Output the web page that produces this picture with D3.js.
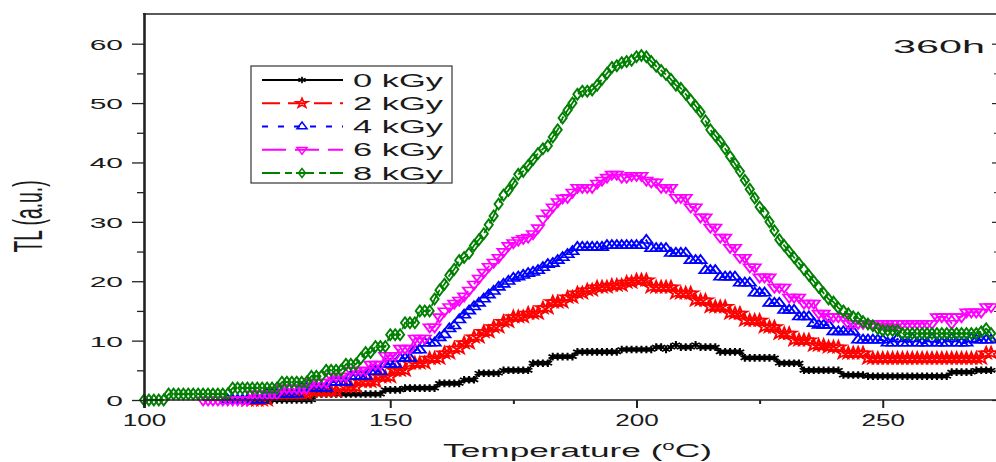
<!DOCTYPE html>
<html>
<head>
<meta charset="utf-8">
<script src="https://cdn.jsdelivr.net/npm/d3@7"></script>
<style>
  body { margin: 0; background: #fff; }
  svg { display: block; font-family: "Liberation Sans", Arial, sans-serif; }
</style>
</head>
<body>
<script>
// TL glow curves, one reading per degree C, each series starts at its first recorded temperature
const doseLabels = ["0 kGy", "2 kGy", "4 kGy", "6 kGy", "8 kGy"];
const seriesStart = [123, 121, 117, 112, 100];

const tl0kGy = [0,0,0,0,0,0,0,
  0,0,0,0,0,1,1,1,1,1,
  1,1,1,1,1,1,1,1,1,1.7,
  1.7,1.7,1.7,2,2,2,2,2,2,2,
  2.8,2.8,2.8,2.8,2.8,3.4,3.4,3.4,4.5,4.5,
  4.5,4.5,4.5,5,5,5,5,5,5,6.2,
  6.2,6.2,6.2,7.3,7.3,7.3,7.3,7.3,8.1,8.1,
  8.1,8.1,8.1,8.1,8.1,8.1,8.1,8.5,8.5,8.5,
  8.5,8.5,8.5,8.5,8.9,8.9,8.5,8.9,9.3,8.9,
  8.9,8.9,9.3,8.9,8.9,8.9,8.9,8.1,8.1,8.1,
  8.1,8.1,7.1,7.1,7.1,7.1,7.1,7.1,7.1,6.2,
  6.2,6.2,6.2,6.2,5,5,5,5,5,5,
  5,5,4.2,4.2,4.2,4.2,4.2,4,4,4,
  4,4,4,4,4,4,4,4,4,4,
  4,4,4,4,4.7,4.7,4.7,4.7,4.7,5,
  5,5,5];

const tl2kGy = [0,0,0,0,0,1,1,1,1,
  1,1,1,1,1.5,1.5,1.5,1.5,1.5,1.5,
  2.2,2.2,2.2,2.2,3.1,3.1,3.1,3.1,3.9,3.9,
  3.9,5,5,5,6.2,6.2,6.2,6.2,7,7,
  7,7.9,7.9,8.7,8.7,9.6,9.6,10.6,10.6,11.5,
  11.5,12.3,12.3,13.2,13.2,14,14,14,14.6,14.6,
  14.6,15.5,15.5,16.5,16.5,16.5,17.3,17.3,18,18,
  18.5,18.5,19,19,19,19.3,19.3,19.3,19.8,19.8,
  20.2,20.2,20.2,19,19,19,19,19,18,18,
  18,18,16.8,16.8,16.8,15.7,15.7,15.7,15.7,14.6,
  14.6,14.6,13.4,13.4,13.4,13.4,12.3,12.3,12.3,11.2,
  11.2,11.2,10.1,10.1,10.1,10.1,9.2,9.2,9.2,8.9,
  8.9,8.9,7.9,7.9,7.9,7.9,7.9,7,7,7,
  7,7,7,7,7,7,7,7,7,7,
  7,7,7,7,7,7,7,7,7,7,
  7,7.9,7.9];

const tl4kGy = [0,0,0,
  0,0,0,0,0,1,1,1,1,1,
  1,1,2,2,2,2,2,2,3,3,
  3,3,4,4,4,4,4.8,4.8,4.8,6,
  6,6,7,7,7,8.4,8.4,9.6,9.6,9.6,
  10.5,11,12,12.5,13.5,14.3,15,15.7,16.3,17,
  17.7,18.3,19,19.5,20,20.5,20.7,21,21.3,21.5,
  21.8,22.3,22.8,23,23.5,24,24.5,25,25.7,25.7,
  25.7,25.7,25.7,25.7,26,26,26,26,26,26,
  26,26,26.9,25.5,25.5,25.5,25.5,24.7,24.7,24.7,
  24.7,23.5,23.5,23.5,21.8,21.8,21.8,20.7,20.7,20.7,
  20.7,19.7,19.7,19.7,18,18,18,16.3,16.3,16.3,
  15.1,15.1,15.1,14,14,14,12.9,12.6,12.6,12.6,
  11.5,11.5,11.5,11.5,11.5,10.1,10.1,10.1,10.1,10.1,
  10.1,9.6,9.6,10.3,9.6,9.6,10.3,9.6,9.6,9.6,
  10.3,9.6,9.6,9.6,10.3,9.6,9.6,9.6,10.3,10.1,
  10.1,10.1,10.1];

const tl6kGy = [0,0,0,0,0,0,0,0,
  0,0,1,1,1,1,1,1,2,2,
  2,2,2,2,3,3,3,3,4,4,
  4,4,5,5,5,5,6,6,6,7.5,
  7.5,7.5,8.7,8.7,8.7,10.4,10.4,10.4,12.3,12.3,
  14,15,15.7,16.3,16.8,17.5,18.5,19.5,20.5,21.5,
  22.5,23.2,24,25,26,26.5,26.9,27.2,27.4,28,
  29,30.5,31.5,32.5,33.4,34,34.1,35,35.8,35.8,
  35.8,35.8,36.5,37,37.5,38,38,37.5,37.5,37.8,
  37.8,37.8,37,36.7,36.7,35.8,35.8,35.8,34.1,34.1,
  34.1,32.5,32.5,30.8,30.8,29.1,29.1,27.4,27.4,25.7,
  25.7,24,24,22.4,22.4,20.7,20.7,20.7,19,19,
  19,17.3,17.3,17.3,16.3,16.3,16.3,14.6,14.6,14,
  14,14,14,12.9,12.9,12.9,12.9,12.9,12.9,12.9,
  12.9,12.9,12.9,12.9,12.9,12.9,12.9,12.9,12.9,12.9,
  12.9,14,14,14,12.9,14,14,14.8,14.8,14.8,
  14.8,15.7,15.7];

const tl8kGy = [0,0,0,0,0,1,1,1,1,1,
  1,1,1,1,1,1,1,1,2,2,
  2,2,2,2,2,2,2,2,3,3,
  3,3,3,3,4,4,4,5,5,5,
  5,6,6,6,7,8,8,9,9,9,
  11,11,11,13,13,13,15,15,15,17,
  18.5,19.5,21,22,23.5,24,24.7,26,27,28,
  29.5,31,33,34.5,35.3,36.5,38,38.5,39.5,40.5,
  41.5,42.3,42.8,44.3,45.5,47.5,48.8,50,51.5,52,
  52,52.2,53,54,55,56,56.3,56.8,57,57.2,
  57.8,58,57.8,57,56.2,55.5,54.8,54,53,52.5,
  51.5,50.5,49.5,48.5,47,45.5,44.5,43.5,42.3,41,
  39.8,38.5,37,35.5,34,32.5,31.5,30,28.5,27,
  26,25,24,23,22,21,20,19,18,17,
  16.5,15.5,15,14.5,14,13.8,13.2,12.8,12.5,12,
  11.7,11.7,11.7,11.7,11.2,11.2,11.2,11.2,11.2,11.2,
  11.2,11.2,11.2,11.2,11.2,11.2,11.2,11.2,11.2,11.2,
  11.5,12,11.2];

const xTicks = [100, 150, 200, 250];
const xMinorTicks = [125, 175, 225];
const yTicks = [0, 10, 20, 30, 40, 50, 60];
const yMinorTicks = [5, 15, 25, 35, 45, 55];
const agingLabel = "360h";

const allSeries = [tl0kGy, tl2kGy, tl4kGy, tl6kGy, tl8kGy];
const colors = ["#000000", "#ff0000", "#0000ff", "#ff00ff", "#008000"];
const dashes = [null, "18,8", "6,10", "24,9", "18,5,7,4"];
const symbols = [d3.symbolAsterisk || d3.symbolCross, d3.symbolStar, d3.symbolTriangle, d3.symbolTriangle, d3.symbolDiamond];
const symbolTurn = [0, 0, 0, 180, 0];
const symbolSize = [40, 40, 38, 38, 34];

const W = 996, H = 462;
const ink = "#1a1a1a";

const svg = d3.select("body").append("svg")
  .attr("width", W)
  .attr("height", H);

const x = d3.scaleLinear().domain([100, 273.2]).range([144, 997]);
const y = d3.scaleLinear().domain([0, 65]).range([400, 14]);

// squeeze/stretch a text horizontally so it covers targetW pixels
function wideText(g, str, ax, ay, size, targetW, anchor) {
  const t = g.append("text")
    .attr("font-size", size)
    .attr("text-anchor", anchor)
    .attr("fill", ink)
    .text(str);
  const w = t.node().getComputedTextLength();
  t.attr("transform", `translate(${ax},${ay}) scale(${targetW / w},1)`);
  return t;
}

// curves: black first, green on top
const line = d3.line()
  .x(d => x(d.t))
  .y(d => y(d.v));

allSeries.forEach((vals, s) => {
  const pts = vals.map((v, i) => ({ t: seriesStart[s] + i, v: v }));
  const g = svg.append("g");
  g.append("path")
    .datum(pts)
    .attr("d", line)
    .attr("fill", "none")
    .attr("stroke", colors[s])
    .attr("stroke-width", 1.8)
    .attr("stroke-dasharray", dashes[s]);
  const sym = d3.symbol().type(symbols[s]).size(symbolSize[s]);
  g.selectAll("path.mk")
    .data(pts)
    .join("path")
    .attr("class", "mk")
    .attr("d", sym)
    .attr("transform", d => `translate(${x(d.t)},${y(d.v)}) scale(1.3,1) rotate(${symbolTurn[s]})`)
    .attr("fill", "none")
    .attr("stroke", colors[s])
    .attr("stroke-width", 1.6);
});

// frame
const frame = svg.append("g").attr("stroke", "#222");
frame.append("line").attr("x1", 144.5).attr("x2", 144.5).attr("y1", 13).attr("y2", 408).attr("stroke-width", 2.6);
frame.append("line").attr("x1", 143).attr("x2", 998).attr("y1", y(0)).attr("y2", y(0)).attr("stroke-width", 1.4);
frame.append("line").attr("x1", 143).attr("x2", 998).attr("y1", y(65)).attr("y2", y(65)).attr("stroke-width", 1.4);
frame.append("line").attr("x1", 997.5).attr("x2", 997.5).attr("y1", 14).attr("y2", 400).attr("stroke-width", 2.6);

// bottom axis
const xAxis = svg.append("g")
  .attr("transform", `translate(0,${y(0)})`)
  .call(d3.axisBottom(x).tickValues(xTicks).tickSize(8).tickSizeOuter(0));
const xMinor = svg.append("g")
  .attr("transform", `translate(0,${y(0)})`)
  .call(d3.axisBottom(x).tickValues(xMinorTicks).tickSize(4).tickSizeOuter(0).tickFormat(""));

// left axis
const yAxis = svg.append("g")
  .attr("transform", "translate(145,0)")
  .call(d3.axisLeft(y).tickValues(yTicks).tickSize(13).tickSizeOuter(0));
const yMinor = svg.append("g")
  .attr("transform", "translate(145,0)")
  .call(d3.axisLeft(y).tickValues(yMinorTicks).tickSize(8).tickSizeOuter(0).tickFormat(""));

// right axis, ticks pointing inward
const rAxis = svg.append("g")
  .attr("transform", "translate(997,0)")
  .call(d3.axisLeft(y).tickValues(yTicks).tickSize(5).tickSizeOuter(0).tickFormat(""));
const rMinor = svg.append("g")
  .attr("transform", "translate(997,0)")
  .call(d3.axisLeft(y).tickValues(yMinorTicks).tickSize(3).tickSizeOuter(0).tickFormat(""));

[xAxis, xMinor, yAxis, yMinor, rAxis, rMinor].forEach(a => {
  a.attr("font-family", null);
  a.select(".domain").remove();
  a.selectAll(".tick line").attr("stroke", "#222");
});
xAxis.selectAll(".tick line").attr("stroke-width", 2);
xMinor.selectAll(".tick line").attr("stroke-width", 2);
yAxis.selectAll(".tick line").attr("stroke-width", 1.3);
yMinor.selectAll(".tick line").attr("stroke-width", 1.3);
rAxis.selectAll(".tick line").attr("stroke-width", 1.2);
rMinor.selectAll(".tick line").attr("stroke-width", 1);

// tick labels, horizontally stretched like the source image
const xLab = xAxis.selectAll(".tick text")
  .attr("font-size", 16).attr("fill", ink)
  .attr("y", 0).attr("dy", 0);
const xW = xLab.nodes()[0].getComputedTextLength();
xLab.attr("transform", `translate(0,25.7) scale(${43.5 / xW},1)`);

const yLab = yAxis.selectAll(".tick text")
  .attr("font-size", 15).attr("fill", ink)
  .attr("x", 0).attr("dy", 0).attr("text-anchor", "end");
const yW = yLab.nodes()[yTicks.length - 1].getComputedTextLength();
yLab.attr("transform", `translate(-22,5.4) scale(${33.3 / yW},1)`);

// axis titles
const xTitle = svg.append("text")
  .attr("font-size", 19)
  .attr("text-anchor", "middle")
  .attr("fill", ink);
xTitle.append("tspan").text("Temperature (");
xTitle.append("tspan").attr("font-size", 12).attr("dy", -7).text("o");
xTitle.append("tspan").attr("dy", 7).text("C)");
const xtW = xTitle.node().getComputedTextLength();
xTitle.attr("transform", `translate(577.5,457) scale(${269 / xtW},1)`);

svg.append("text")
  .attr("font-size", 19.3)
  .attr("text-anchor", "middle")
  .attr("fill", ink)
  .attr("transform", "translate(41.7,216.5) rotate(-90) scale(1,2.1)")
  .text("TL (a.u.)");

// aging time label, cut by the right edge
wideText(svg, agingLabel, 893, 53, 19, 92, "start");

// legend
const lg = svg.append("g");
lg.append("rect")
  .attr("x", 251).attr("y", 66).attr("width", 201).attr("height", 117)
  .attr("fill", "#fff").attr("stroke", "#444").attr("stroke-width", 1.3);
const legendY = d3.scalePoint().domain(doseLabels).range([80, 173]);
doseLabels.forEach((lab, s) => {
  const ly = legendY(lab);
  lg.append("line")
    .attr("x1", 262).attr("x2", 343).attr("y1", ly).attr("y2", ly)
    .attr("stroke", colors[s]).attr("stroke-width", 2)
    .attr("stroke-dasharray", dashes[s]);
  lg.append("path")
    .attr("d", d3.symbol().type(symbols[s]).size(symbolSize[s] * 0.7)())
    .attr("transform", `translate(302,${ly}) scale(1.3,1) rotate(${symbolTurn[s]})`)
    .attr("fill", "none")
    .attr("stroke", colors[s])
    .attr("stroke-width", 1.3);
  wideText(lg, lab, 353, ly + 6.7, 18.5, 90, "start");
});
</script>
</body>
</html>
